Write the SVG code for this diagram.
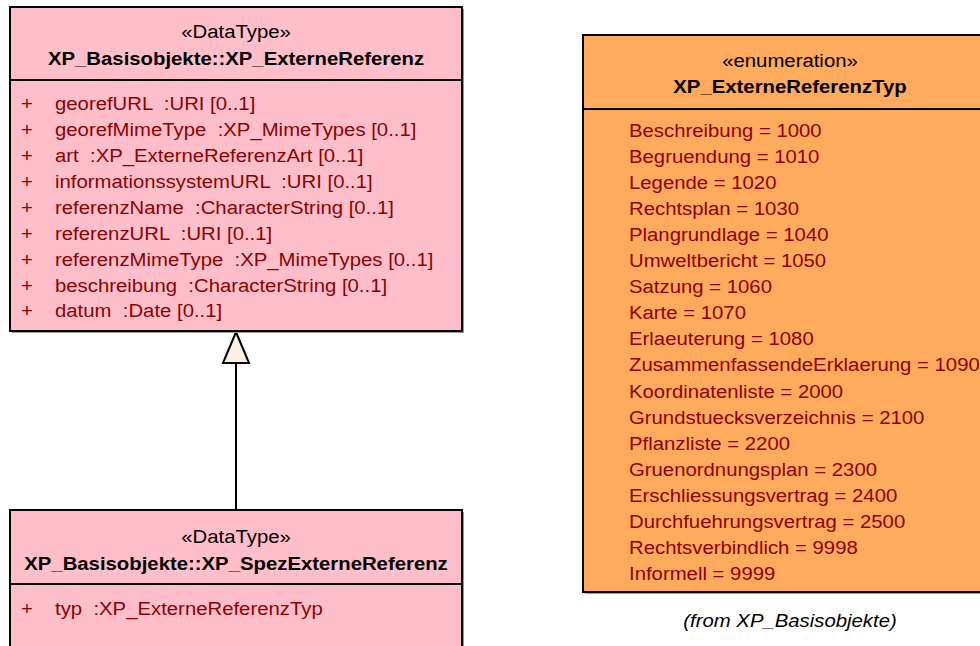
<svg xmlns="http://www.w3.org/2000/svg" width="980" height="646" viewBox="0 0 980 646">
<style>
text{font-family:"Liberation Sans",Arial,sans-serif;font-size:18px;white-space:pre}
.hd{fill:#000}
.b{font-weight:bold}
.at{fill:#8f0000}
.box{stroke:#000;stroke-width:2}
.dt{fill:#ffbfca}
.en{fill:#ffab5e}
.sh{fill:none;stroke:#9a9a9a;stroke-width:2}
.div{stroke:#000;stroke-width:2}
.it{font-style:italic;fill:#000}
</style>
<rect width="980" height="646" fill="#fff"/>

<g id="connectors">
<line x1="236" y1="510" x2="236" y2="363" stroke="#000" stroke-width="2"/>
<path d="M236 332 L249 363 L223 363 Z" fill="#fbf1e2" stroke="#000" stroke-width="2"/>
</g>

<g id="XP_ExterneReferenz">
<path class="sh" d="M463 9 V332 H12"/>
<rect class="box dt" x="10" y="7" width="452" height="324"/>
<line class="div" x1="10" y1="80" x2="462" y2="80"/>
<g transform="matrix(1.13,0,0,1,236,0)">
<text class="hd" x="0" y="38" text-anchor="middle">«DataType»</text>
<text class="hd b" x="0" y="65" text-anchor="middle">XP_Basisobjekte::XP_ExterneReferenz</text>
</g>
<g transform="matrix(1.13,0,0,1,55,0)">
<text class="at" x="-30" y="110">+</text><text class="at" x="0" y="110" xml:space="preserve">georefURL  :URI [0..1]</text>
<text class="at" x="-30" y="136">+</text><text class="at" x="0" y="136" xml:space="preserve">georefMimeType  :XP_MimeTypes [0..1]</text>
<text class="at" x="-30" y="162">+</text><text class="at" x="0" y="162" xml:space="preserve">art  :XP_ExterneReferenzArt [0..1]</text>
<text class="at" x="-30" y="188">+</text><text class="at" x="0" y="188" xml:space="preserve">informationssystemURL  :URI [0..1]</text>
<text class="at" x="-30" y="214">+</text><text class="at" x="0" y="214" xml:space="preserve">referenzName  :CharacterString [0..1]</text>
<text class="at" x="-30" y="240">+</text><text class="at" x="0" y="240" xml:space="preserve">referenzURL  :URI [0..1]</text>
<text class="at" x="-30" y="266">+</text><text class="at" x="0" y="266" xml:space="preserve">referenzMimeType  :XP_MimeTypes [0..1]</text>
<text class="at" x="-30" y="292">+</text><text class="at" x="0" y="292" xml:space="preserve">beschreibung  :CharacterString [0..1]</text>
<text class="at" x="-30" y="317">+</text><text class="at" x="0" y="317" xml:space="preserve">datum  :Date [0..1]</text>
</g>
</g>

<g id="XP_SpezExterneReferenz">
<path class="sh" d="M463 512 V650"/>
<rect class="box dt" x="10" y="510" width="452" height="150"/>
<line class="div" x1="10" y1="584" x2="462" y2="584"/>
<g transform="matrix(1.13,0,0,1,236,0)">
<text class="hd" x="0" y="543" text-anchor="middle">«DataType»</text>
<text class="hd b" x="0" y="570" text-anchor="middle">XP_Basisobjekte::XP_SpezExterneReferenz</text>
</g>
<g transform="matrix(1.13,0,0,1,55,0)">
<text class="at" x="-30" y="615">+</text><text class="at" x="0" y="615" xml:space="preserve">typ  :XP_ExterneReferenzTyp</text>
</g>
</g>

<g id="XP_ExterneReferenzTyp">
<path class="sh" d="M585 593 H1000"/>
<rect class="box en" x="583" y="35" width="420" height="557"/>
<line class="div" x1="583" y1="109" x2="1003" y2="109"/>
<g transform="matrix(1.13,0,0,1,790,0)">
<text class="hd" x="0" y="67" text-anchor="middle">«enumeration»</text>
<text class="hd b" x="0" y="93" text-anchor="middle">XP_ExterneReferenzTyp</text>
</g>
<g transform="matrix(1.13,0,0,1,629,0)">
<text class="at" x="0" y="137">Beschreibung = 1000</text>
<text class="at" x="0" y="163">Begruendung = 1010</text>
<text class="at" x="0" y="189">Legende = 1020</text>
<text class="at" x="0" y="215">Rechtsplan = 1030</text>
<text class="at" x="0" y="241">Plangrundlage = 1040</text>
<text class="at" x="0" y="267">Umweltbericht = 1050</text>
<text class="at" x="0" y="293">Satzung = 1060</text>
<text class="at" x="0" y="319">Karte = 1070</text>
<text class="at" x="0" y="345">Erlaeuterung = 1080</text>
<text class="at" x="0" y="371">ZusammenfassendeErklaerung = 1090</text>
<text class="at" x="0" y="398">Koordinatenliste = 2000</text>
<text class="at" x="0" y="424">Grundstuecksverzeichnis = 2100</text>
<text class="at" x="0" y="450">Pflanzliste = 2200</text>
<text class="at" x="0" y="476">Gruenordnungsplan = 2300</text>
<text class="at" x="0" y="502">Erschliessungsvertrag = 2400</text>
<text class="at" x="0" y="528">Durchfuehrungsvertrag = 2500</text>
<text class="at" x="0" y="554">Rechtsverbindlich = 9998</text>
<text class="at" x="0" y="580">Informell = 9999</text>
</g>
<g transform="matrix(1.13,0,0,1,790,0)">
<text class="it" x="0" y="627" text-anchor="middle">(from XP_Basisobjekte)</text>
</g>
</g>
</svg>
